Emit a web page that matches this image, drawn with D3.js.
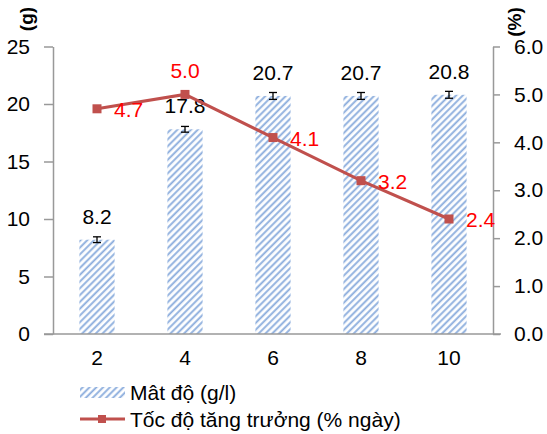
<!DOCTYPE html>
<html>
<head>
<meta charset="utf-8">
<script src="https://cdn.jsdelivr.net/npm/d3@7"></script>
<style>
  body { margin: 0; background: #fff; }
  svg { font-family: "Liberation Sans", Arial, sans-serif; }
</style>
</head>
<body>
<svg width="547" height="434"></svg>
<script>
var days = ["2", "4", "6", "8", "10"];
var density = [8.2, 17.8, 20.7, 20.7, 20.8];
var densityErr = [0.25, 0.25, 0.3, 0.3, 0.3];
var growth = [4.7, 5.0, 4.1, 3.2, 2.4];
var leftTicks = [0, 5, 10, 15, 20, 25];
var rightTicks = [0, 1, 2, 3, 4, 5, 6];

var svg = d3.select("svg");
var plotLeft = 53, plotRight = 493, plotTop = 46.5, plotBottom = 334;
var axisColor = "#999";
var lineColor = "#c0504d";
var fontSize = 21;

var x = d3.scaleBand().domain(days).range([plotLeft, plotRight]).paddingInner(0.6).paddingOuter(0.3);
var yL = d3.scaleLinear().domain([0, 25]).range([plotBottom, plotTop]);
var yR = d3.scaleLinear().domain([0, 6]).range([plotBottom, plotTop]);
function cx(d) { return x(d) + x.bandwidth() / 2; }

// stripe pattern for the bars
var defs = svg.append("defs");
defs.append("pattern")
    .attr("id", "stripes")
    .attr("patternUnits", "userSpaceOnUse")
    .attr("width", 4.8).attr("height", 4.8)
    .attr("patternTransform", "rotate(45)")
  .append("line")
    .attr("x1", 1.2).attr("y1", 0).attr("x2", 1.2).attr("y2", 4.8)
    .attr("stroke", "#8caddd").attr("stroke-width", 1.9);

// axes
var gL = svg.append("g").attr("transform", "translate(" + plotLeft + ",0)")
    .call(d3.axisLeft(yL).tickValues(leftTicks).tickSize(9).tickSizeOuter(0).tickPadding(14));
var gR = svg.append("g").attr("transform", "translate(" + plotRight + ",0)")
    .call(d3.axisRight(yR).tickValues(rightTicks).tickFormat(d3.format(".1f")).tickSize(7).tickSizeOuter(0).tickPadding(14));
[gL, gR].forEach(function(g) {
  g.select(".domain").attr("stroke", axisColor).attr("stroke-width", 1.5);
  g.selectAll(".tick line").attr("stroke", axisColor).attr("stroke-width", 1.5);
  g.selectAll(".tick text").attr("font-size", fontSize).attr("fill", "#000")
    .attr("font-family", "Liberation Sans, Arial, sans-serif");
});

var gX = svg.append("g").attr("transform", "translate(0," + plotBottom + ")")
    .call(d3.axisBottom(x).tickSize(0).tickPadding(16));
gX.select(".domain").remove();
gX.selectAll(".tick text").attr("font-size", fontSize).attr("fill", "#000")
  .attr("font-family", "Liberation Sans, Arial, sans-serif");

// bars
svg.append("g").selectAll("rect")
  .data(density)
  .enter().append("rect")
    .attr("x", function(d, i) { return x(days[i]); })
    .attr("y", function(d) { return yL(d); })
    .attr("width", x.bandwidth())
    .attr("height", function(d) { return plotBottom - yL(d); })
    .attr("fill", "url(#stripes)");

svg.append("line")
    .attr("x1", plotLeft - 9).attr("x2", plotRight + 8)
    .attr("y1", plotBottom).attr("y2", plotBottom)
    .attr("stroke", axisColor).attr("stroke-width", 1.5);

// error bars
var err = svg.append("g").attr("stroke", "#000").attr("stroke-width", 1.3);
density.forEach(function(d, i) {
  var c = cx(days[i]);
  var y0 = yL(d - densityErr[i]), y1 = yL(d + densityErr[i]);
  err.append("line").attr("x1", c).attr("x2", c).attr("y1", y0).attr("y2", y1);
  err.append("line").attr("x1", c - 4).attr("x2", c + 4).attr("y1", y0).attr("y2", y0);
  err.append("line").attr("x1", c - 4).attr("x2", c + 4).attr("y1", y1).attr("y2", y1);
});

// bar value labels
svg.append("g").selectAll("text")
  .data(density)
  .enter().append("text")
    .attr("x", function(d, i) { return cx(days[i]); })
    .attr("y", function(d) { return yL(d) - 16; })
    .attr("text-anchor", "middle")
    .attr("font-size", fontSize)
    .text(function(d) { return d3.format(".1f")(d); });

// growth line
var line = d3.line()
    .x(function(d, i) { return cx(days[i]); })
    .y(function(d) { return yR(d); });
svg.append("path")
    .datum(growth)
    .attr("d", line)
    .attr("fill", "none")
    .attr("stroke", lineColor)
    .attr("stroke-width", 3);
svg.append("g").selectAll("rect")
  .data(growth)
  .enter().append("rect")
    .attr("x", function(d, i) { return cx(days[i]) - 4.5; })
    .attr("y", function(d) { return yR(d) - 4.5; })
    .attr("width", 9).attr("height", 9)
    .attr("fill", lineColor);

svg.append("g").selectAll("text")
  .data(growth)
  .enter().append("text")
    .attr("x", function(d, i) { return i === 1 ? cx(days[i]) : cx(days[i]) + 17; })
    .attr("y", function(d, i) { return i === 1 ? yR(d) - 16 : yR(d) + 8; })
    .attr("text-anchor", function(d, i) { return i === 1 ? "middle" : "start"; })
    .attr("font-size", fontSize)
    .attr("fill", "#ff0000")
    .text(function(d) { return d3.format(".1f")(d); });

// axis titles
svg.append("text")
    .attr("transform", "translate(33,19) rotate(-90)")
    .attr("text-anchor", "middle")
    .attr("font-size", 19).attr("font-weight", "bold")
    .text("(g)");
svg.append("text")
    .attr("transform", "translate(521,22) rotate(-90)")
    .attr("text-anchor", "middle")
    .attr("font-size", 19).attr("font-weight", "bold")
    .text("(%)");

// legend
var legend = svg.append("g");
legend.append("rect")
    .attr("x", 80).attr("y", 387).attr("width", 45).attr("height", 11)
    .attr("fill", "url(#stripes)");
legend.append("text")
    .attr("x", 130).attr("y", 400)
    .attr("font-size", fontSize)
    .text("Mât độ (g/l)");
legend.append("line")
    .attr("x1", 80).attr("x2", 125).attr("y1", 419).attr("y2", 419)
    .attr("stroke", lineColor).attr("stroke-width", 3);
legend.append("rect")
    .attr("x", 98).attr("y", 415).attr("width", 8).attr("height", 8)
    .attr("fill", lineColor);
legend.append("text")
    .attr("x", 130).attr("y", 427)
    .attr("font-size", fontSize)
    .text("Tốc độ tăng trưởng (% ngày)");
</script>
</body>
</html>
